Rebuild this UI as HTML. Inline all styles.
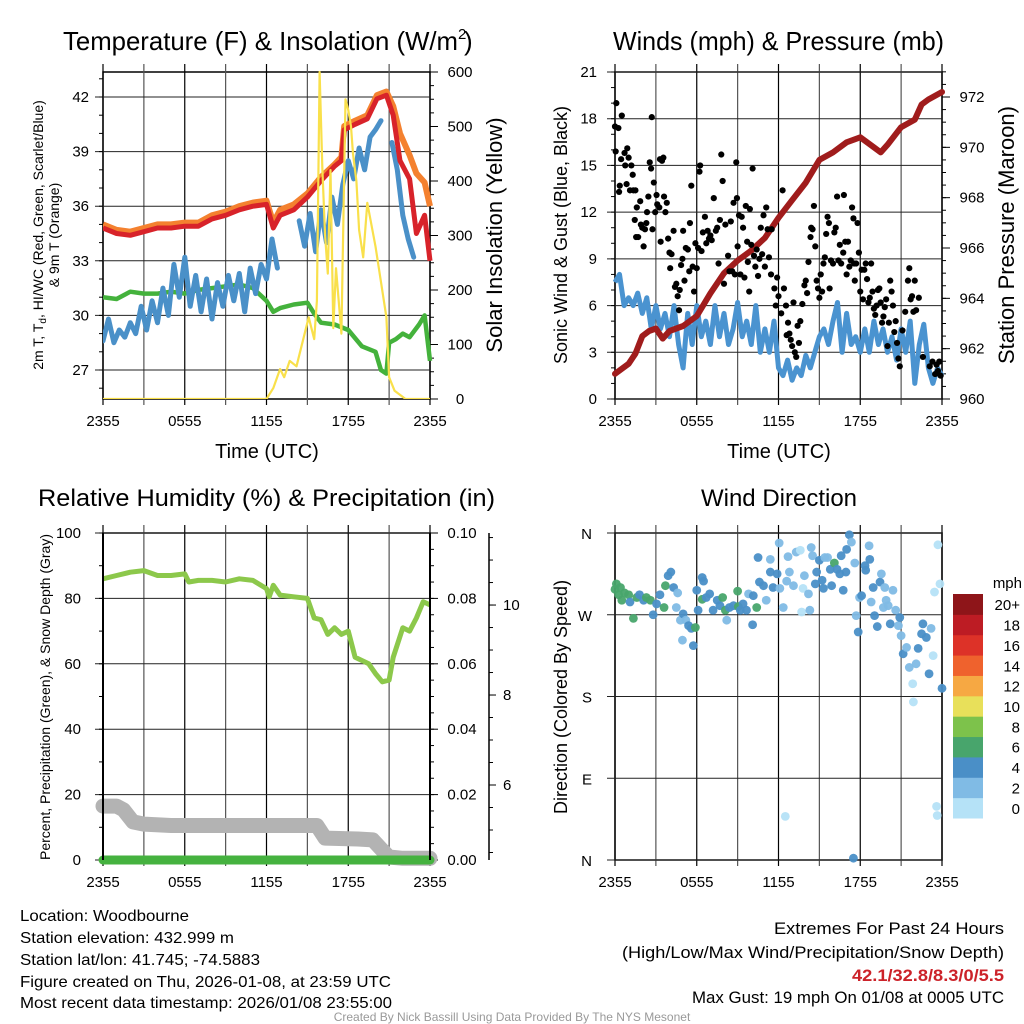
<!DOCTYPE html>
<html><head><meta charset="utf-8"><style>
html,body{margin:0;padding:0;background:#fff;}
svg{display:block;font-family:"Liberation Sans",sans-serif;}
.nar{font-family:"Liberation Sans Narrow","Liberation Sans",sans-serif;}
</style></head><body>
<svg id="c" width="1024" height="1024" viewBox="0 0 1024 1024" xmlns="http://www.w3.org/2000/svg">
<text x="63" y="50" font-size="26" textLength="395" lengthAdjust="spacingAndGlyphs">Temperature (F) &amp; Insolation (W/m</text>
<text x="458" y="39" font-size="15">2</text>
<text x="464" y="50" font-size="26">)</text>
<text x="613" y="50" font-size="26" textLength="331" lengthAdjust="spacingAndGlyphs">Winds (mph) &amp; Pressure (mb)</text>
<text x="38" y="506" font-size="24" textLength="457" lengthAdjust="spacingAndGlyphs">Relative Humidity (%) &amp; Precipitation (in)</text>
<text x="779" y="506" font-size="24" text-anchor="middle">Wind Direction</text>

<text x="267" y="458" font-size="20" text-anchor="middle">Time (UTC)</text>
<text x="779" y="458" font-size="20" text-anchor="middle">Time (UTC)</text>
<text transform="translate(43,235) rotate(-90)" font-size="14" text-anchor="middle">2m T, T<tspan font-size="10" dy="3">d</tspan><tspan dy="-3">, HI/WC (Red, Green, Scarlet/Blue)</tspan></text>
<text transform="translate(59,235) rotate(-90)" font-size="14" text-anchor="middle">&amp; 9m T (Orange)</text>
<text transform="translate(502,235) rotate(-90)" font-size="22" text-anchor="middle">Solar Insolation (Yellow)</text>
<text transform="translate(567,235) rotate(-90)" font-size="18" text-anchor="middle">Sonic Wind &amp; Gust (Blue, Black)</text>
<text transform="translate(1014,235) rotate(-90)" font-size="22" text-anchor="middle">Station Pressure (Maroon)</text>
<text transform="translate(50,697) rotate(-90)" font-size="14" text-anchor="middle">Percent, Precipitation (Green), &amp; Snow Depth (Gray)</text>
<text transform="translate(567,697) rotate(-90)" font-size="18" text-anchor="middle">Direction (Colored By Speed)</text>

<g class="nar" font-size="16">
<text x="20" y="921" textLength="169" lengthAdjust="spacingAndGlyphs">Location: Woodbourne</text>
<text x="20" y="943" textLength="214" lengthAdjust="spacingAndGlyphs">Station elevation: 432.999 m</text>
<text x="20" y="965" textLength="240" lengthAdjust="spacingAndGlyphs">Station lat/lon: 41.745; -74.5883</text>
<text x="20" y="987" textLength="371" lengthAdjust="spacingAndGlyphs">Figure created on Thu, 2026-01-08, at 23:59 UTC</text>
<text x="20" y="1008" textLength="372" lengthAdjust="spacingAndGlyphs">Most recent data timestamp: 2026/01/08 23:55:00</text>
</g>
<g class="nar" font-size="17">
<text x="774" y="934" textLength="230" lengthAdjust="spacingAndGlyphs">Extremes For Past 24 Hours</text>
<text x="622" y="958" textLength="382" lengthAdjust="spacingAndGlyphs">(High/Low/Max Wind/Precipitation/Snow Depth)</text>
<text x="852" y="981" textLength="152" lengthAdjust="spacingAndGlyphs" fill="#cc2229" font-weight="bold">42.1/32.8/8.3/0/5.5</text>
<text x="692" y="1003" textLength="312" lengthAdjust="spacingAndGlyphs">Max Gust: 19 mph On 01/08 at 0005 UTC</text>
</g>
<text class="nar" x="512" y="1021" font-size="12" fill="#999" text-anchor="middle">Created By Nick Bassill Using Data Provided By The NYS Mesonet</text>
</svg>
<script>
// ---- data ----
const timeTicks = ["2355","0555","1155","1755","2355"];
const tempHours = [0,1,2,3,4,5,6,7,8,9,10,11,12,12.5,13,14,15,16,17,17.5,17.7,18.5,19.4,20.1,20.8,21.3,21.8,22.5,23.0,23.6,24];
const tempRed   = [34.8,34.5,34.4,34.6,34.8,34.8,34.9,34.9,35.3,35.5,35.8,36.0,36.1,34.8,35.5,35.8,36.5,37.4,38.2,38.5,40.2,40.5,40.8,41.9,42.1,41.0,38.5,37.5,34.5,35.5,33.0];
const temp9m    = [35.0,34.7,34.6,34.8,35.0,35.0,35.1,35.1,35.5,35.7,36.0,36.2,36.3,35.1,35.8,36.1,36.7,37.6,38.3,38.7,40.4,40.7,41.0,42.1,42.3,41.5,40.0,38.8,37.8,37.3,36.0];
const dewHours  = [0,1,2,3,4,5,6,7,8,9,10,11,12,12.5,13,14,15,15.5,16,17,18,19,20,20.4,20.8,21.0,21.5,22,22.5,23.2,23.6,24];
const dewpoint  = [31.0,30.9,31.3,31.2,31.2,31.3,31.2,31.4,31.5,31.6,31.7,31.5,30.8,30.2,30.4,30.6,30.7,30.1,29.6,29.5,29.2,28.3,28.0,27.0,26.8,28.5,28.7,29.0,28.8,29.5,30.0,27.5];
const hiwcStep = 0.4;
const hiwc = [28.6,29.8,28.5,29.2,28.8,29.6,29.0,30.5,29.2,30.8,29.6,31.5,30.0,32.8,31.0,33.2,30.5,32.2,30.2,32.0,29.8,31.8,30.5,32.2,30.8,32.3,30.2,32.6,31.2,32.8,32.0,34.2,32.6,null,null,null,35.2,33.8,35.6,33.5,35.8,34.0,36.5,35.0,37.2,38.5,37.5,39.2,38.0,39.8,40.2,40.7,null,39.5,38.0,35.5,34.2,33.2];
const solarHours = [0,12.0,12.5,13.0,13.3,13.7,14.2,15.1,15.5,15.7,15.9,16.1,16.3,16.5,16.7,16.9,17.1,17.3,17.5,17.8,18.0,18.2,18.35,18.6,18.8,19.1,19.4,20.0,20.8,21.0,21.4,22.2,24];
const solar      = [0,0,20,55,40,70,60,150,110,180,600,420,300,230,420,130,240,180,120,550,530,500,450,400,310,260,360,280,150,40,15,0,0];
const presHours = [0,0.5,1,1.5,2,2.5,3,3.5,4,5,6,7,8,9,10,11,12,13,14,15,16,17,18,18.5,19,19.5,20,21,22,22.5,23,24];
const pressure  = [961.0,961.2,961.4,961.8,962.5,962.7,962.8,962.4,962.7,962.9,963.3,964.2,965.0,965.5,965.9,966.4,967.2,967.9,968.6,969.5,969.8,970.2,970.4,970.2,970.0,969.8,970.1,970.8,971.1,971.7,971.9,972.2];
const windStep = 1/3;
const windSpeed = [7.5,8.0,6.0,6.5,6.0,6.8,5.5,6.5,4.5,6.0,4.5,5.5,4.0,6.0,3.5,2.0,5.5,3.5,6.0,4.0,5.0,3.5,6.0,4.0,5.5,3.5,4.5,6.2,4.0,5.0,3.5,6.0,3.0,4.5,3.0,5.0,2.0,1.5,2.5,1.2,2.0,1.5,2.8,2.0,3.0,4.0,4.5,3.5,5.0,6.2,3.0,5.5,3.5,4.0,3.0,4.5,3.0,5.0,3.5,4.5,3.0,4.0,2.5,4.5,3.0,5.0,1.0,3.5,4.8,2.0,1.0,2.0,1.5];
const gustHours = [0,0.1,0.25,0.05,0.5,0.35,0.3,0.45,0.7,0.75,0.9,0.85,1.0,1.2,1.3,1.1,1.35,1.5,1.45,1.6,1.55,1.7,1.85,1.9,2.0,2.1,2.2,2.3,2.35,2.45,2.55,2.65,2.7,2.75,2.85,2.95,3.05,3.1,3.25,3.35,3.3,3.55,3.45,3.6,3.7,3.8,3.9,4.0,4.05,4.15,4.3,4.4,4.5,4.6,4.7,4.75,4.85,4.95,5.0,5.1,5.2,5.35,5.45,5.5,5.6,5.7,5.8,5.9,6.0,6.1,6.2,6.25,6.35,6.45,6.6,6.7,6.8,6.9,7.0,7.1,7.25,7.4,7.5,7.6,7.7,7.8,7.9,8.0,8.1,8.3,8.4,8.5,8.6,8.7,8.8,8.9,8.95,9.0,9.1,9.2,9.3,9.4,9.5,9.6,9.7,9.75,9.85,9.9,10.0,10.1,10.2,10.3,10.4,10.5,10.6,10.7,10.8,10.9,11.0,11.1,11.2,11.3,11.45,11.5,11.7,11.8,11.9,12.0,12.2,12.3,12.4,12.55,12.6,12.7,12.8,12.9,13.0,13.1,13.2,13.3,13.4,13.5,13.6,13.75,13.9,14.0,14.1,14.2,14.35,14.4,14.5,14.6,14.7,14.8,14.9,15.0,15.1,15.2,15.3,15.4,15.5,15.6,15.7,15.75,15.85,16.0,16.1,16.2,16.3,16.4,16.5,16.6,16.75,16.8,16.9,17.0,17.1,17.2,17.3,17.4,17.5,17.55,17.6,17.7,17.8,17.9,18.0,18.1,18.2,18.3,18.4,18.5,18.6,18.7,18.8,18.9,19.0,19.1,19.2,19.3,19.4,19.5,19.6,19.7,19.8,19.9,20.0,20.1,20.2,20.3,20.4,20.5,20.6,20.7,20.8,20.9,21.1,21.3,21.5,21.6,21.7,21.8,21.9,22.0,22.1,22.3,22.6,23.1,23.3,23.5,23.6,23.7,23.8,23.9];
const gust = [17.5,19.0,17.4,15.9,18.2,13.7,13.3,15.4,15.8,15.0,16.1,13.8,15.5,15.0,14.4,13.4,13.4,13.4,11.5,12.3,10.4,10.4,12.7,11.2,11.0,9.8,10.9,11.3,12.0,13.0,15.2,14.8,18.1,10.9,13.9,12.0,13.1,12.5,12.3,10.1,15.4,15.5,15.3,13.0,12.0,12.6,10.3,9.4,8.4,9.3,10.8,7.2,7.4,6.6,5.7,7.0,8.6,9.0,10.8,7.6,9.7,9.6,8.2,11.3,13.7,8.5,6.9,10.0,8.4,9.7,14.6,15.0,9.5,10.7,11.7,10.0,10.8,10.3,10.5,10.2,12.9,10.8,11.0,8.7,11.5,15.7,14.0,7.4,11.2,9.2,8.2,11.4,8.2,12.6,8.0,15.2,12.9,9.8,11.8,8.0,11.7,11.0,7.8,12.4,10.1,8.8,6.9,12.2,9.9,14.8,9.2,8.5,9.6,7.9,9.0,11.0,9.3,11.8,8.5,12.3,10.9,9.1,8.0,10.9,7.1,6.0,7.8,6.6,5.5,13.4,7.1,6.0,4.1,4.9,4.2,3.8,3.4,6.2,3.0,2.7,4.7,3.6,5.0,6.1,7.3,7.6,6.8,8.8,10.4,11.0,10.9,12.4,9.8,7.6,7.1,6.5,8.0,6.9,8.7,9.1,10.6,11.7,11.3,7.1,8.9,8.7,10.7,11.0,13.0,8.9,9.9,8.7,9.4,13.1,10.1,8.0,10.1,8.5,8.9,12.3,11.6,8.7,7.6,8.7,11.3,9.4,6.9,8.3,6.4,8.3,8.7,7.7,6.2,6.5,8.7,6.9,5.8,5.4,6.0,7.0,7.1,6.2,4.9,5.3,5.9,6.4,3.4,4.9,7.6,6.9,6.0,4.3,5.0,3.6,2.6,2.1,4.4,5.6,7.6,8.4,6.4,6.6,5.6,7.6,5.7,6.5,2.7,2.1,2.4,1.6,2.2,1.8,2.4,1.5];
const dirHours = [0,0.1,0.27,0.4,0.5,0.7,1,1.1,1.35,1.6,1.8,2.1,2.3,2.6,2.8,3.05,3.3,3.6,3.7,3.9,4.1,4.3,4.5,4.6,4.8,5.0,5.2,5.4,5.6,5.75,4.95,5.9,6.0,6.1,6.4,6.5,6.4,6.7,6.95,7.2,7.5,7.7,7.9,8.1,8.2,8.4,8.7,9.0,9.05,9.2,9.4,9.65,9.8,10.1,10.15,10.4,10.5,10.6,10.9,11.1,11.4,11.4,11.6,11.9,12.05,12.1,12.35,12.5,12.6,12.7,12.8,13.1,13.3,13.6,13.7,13.8,13.9,14.2,14.3,14.4,14.5,14.7,14.8,15.0,15.2,15.3,15.4,15.6,15.8,15.9,16.1,16.3,16.5,16.6,16.75,16.95,17.0,17.2,17.35,17.6,17.7,17.85,17.95,18.1,18.35,18.4,18.65,18.7,18.8,18.95,19.05,19.25,19.45,19.55,19.7,19.8,19.9,20.05,20.2,20.4,20.6,20.8,20.9,21.0,21.15,21.4,21.6,21.85,21.9,22.1,22.25,22.5,22.6,22.85,23.05,23.2,23.35,23.45,23.6,23.65,23.7,23.85,24.0,17.5];
const direction = [298,304,292,300,286,294,292,284,266,289,292,286,289,286,270,282,292,278,302,313,317,300,278,294,264,271,264,258,255,236,242,256,297,275,311,307,287,289,293,275,286,280,289,275,264,278,280,296,279,275,282,275,293,259,291,278,333,306,302,286,317,331,300,315,349,299,278,48,307,334,317,302,339,341,273,299,313,293,275,344,335,304,317,330,308,299,333,333,320,302,327,320,315,335,297,317,342,358,350,327,269,251,289,291,324,319,346,331,284,300,269,257,306,315,278,300,286,280,260,297,275,258,267,247,227,234,212,194,174,216,233,249,260,245,205,255,225,295,59,49,347,304,189,2];
const dirSpeed = [6,6,7,6,6,6,6,5,6,6,5,5,6,6,5,5,4,6,6,5,5,4,2,2,2,4,2,4,4,4,2,6,4,4,4,4,6,4,4,4,4,4,6,6,2,4,4,6,6,4,4,4,2,4,4,6,4,4,4,2,4,2,4,4,2,2,2,0,2,2,2,2,2,0,0,0,2,2,2,2,2,4,4,4,4,4,2,2,4,4,6,4,4,4,4,4,4,4,2,2,2,4,2,4,4,4,2,4,2,4,4,4,4,2,2,2,2,2,4,2,2,2,4,2,4,2,2,0,0,2,4,4,4,4,4,2,0,0,0,0,0,0,4,4];
const rhHours = [0,1,2,3,4,5,6,6.3,7,8,9,10,11,12,12.2,12.5,13,14,15,15.5,16,16.5,17,17.5,18,18.5,19,19.5,20,20.5,21,21.3,22,22.5,23,23.5,24];
const humidity = [86,87,88,88.5,87,87,87.5,85,85.5,85.5,85,86,85.5,83,80.5,84,81,80.5,80,74,73.5,69,71,69,70,62,61,60,57,54.5,55,62,71,70,74,79,78];
const snowHours = [0,1,1.5,2.2,3,5,15.7,16.3,18.7,19.8,20.5,21,22,24];
const snowDepth = [5.53,5.53,5.45,5.18,5.13,5.10,5.10,4.82,4.80,4.78,4.55,4.40,4.37,4.37];
const precipHours = [0,24];
const precip = [0,0];
const speedBins = ["0","2","4","6","8","10","12","14","16","18","20+"];
const speedColors = ["#b5e2f7","#80bbe5","#4a8fc7","#48a56c","#7dc24b","#e8e05a","#f6a843","#ef622d","#dd3228","#bd1c24","#8e1519"];

// ---- helpers ----
const NS="http://www.w3.org/2000/svg";
const svg=document.getElementById('c');
function mk(tag,attrs,name,parent){
  const el=document.createElementNS(NS,tag);
  for(const k in attrs) el.setAttribute(k,attrs[k]);
  
  
  (parent||svg).appendChild(el);
  return el;
}
function txt(x,y,s,size,anchor,name,extra){
  const t=mk('text',Object.assign({x:x,y:y,'font-size':size,'text-anchor':anchor||'middle'},extra||{}),name);
  t.textContent=s;return t;
}
function lin(x0,x1){return h=>x0+h/24*(x1-x0);}
function scale(d0,d1,p0,p1){return v=>p0+(v-d0)/(d1-d0)*(p1-p0);}
function pathFrom(xs,ys,X,Y){
  let d='',pen=false;
  for(let i=0;i<ys.length;i++){
    if(ys[i]===null||ys[i]===undefined){pen=false;continue;}
    d+=(pen?'L':'M')+X(xs[i]).toFixed(1)+','+Y(ys[i]).toFixed(1);pen=true;
  }
  return d;
}
function frame(L,R,T,B,name){
  mk('rect',{x:L,y:T,width:R-L,height:B-T,fill:'none',stroke:'#000','stroke-width':1.5},name);
  const X=lin(L,R);
  for(let h=0;h<=24;h+=3){
    const x=X(h);
    mk('line',{x1:x,y1:T-8,x2:x,y2:B+6,stroke:(h%6===0)?'#000':'#555','stroke-width':1.2},'vertical-gridline');
  }
  timeTicks.forEach((s,i)=>txt(X(i*6),B+27,s,15,'middle','x-tick-label'));
  return X;
}

// ===== Panel 1: Temperature =====
(function(){
  const L=103,R=430,T=72,B=399;
  const X=frame(L,R,T,B,'temperature-plot-frame');
  const Y=scale(42,27,97,370);
  const YS=scale(0,600,399,72);
  for(let v=27;v<=42;v+=3){mk('line',{x1:L-8,y1:Y(v),x2:R,y2:Y(v),stroke:'#222','stroke-width':1},'temp-gridline');txt(L-14,Y(v)+5,String(v),15,'end','temp-y-tick-label');}
  for(let v=26;v<=43;v++){mk('line',{x1:L-4,y1:Y(v),x2:L,y2:Y(v),stroke:'#000'},'temp-minor-tick');}
  for(let v=0;v<=600;v+=100){mk('line',{x1:R,y1:YS(v),x2:R+8,y2:YS(v),stroke:'#000'},'solar-tick');txt(R+30,YS(v)+5,String(v),15,'middle','solar-y-tick-label');}
  for(let v=0;v<=600;v+=25){mk('line',{x1:R,y1:YS(v),x2:R+4,y2:YS(v),stroke:'#000'},'solar-minor-tick');}
  const cl=mk('clipPath',{id:'cp1'},'clip-temp');mk('rect',{x:L,y:T-3,width:R-L+3,height:B-T+3},'clip-rect',cl);
  const g=mk('g',{'clip-path':'url(#cp1)'},'temperature-series');
  mk('path',{d:pathFrom(dewHours,dewpoint,X,Y),fill:'none',stroke:'#44b23c','stroke-width':4.5,'stroke-linejoin':'round'},'dewpoint-line',g);
  const hx=hiwc.map((v,i)=>i*hiwcStep);
  mk('path',{d:pathFrom(hx,hiwc,X,Y),fill:'none',stroke:'#4a90c8','stroke-width':5,'stroke-linejoin':'round','stroke-linecap':'round'},'heat-index-wind-chill-line',g);
  mk('path',{d:pathFrom(tempHours,temp9m,X,Y),fill:'none',stroke:'#f4812f','stroke-width':6,'stroke-linejoin':'round'},'temp-9m-line',g);
  mk('path',{d:pathFrom(tempHours,tempRed,X,Y),fill:'none',stroke:'#d8232a','stroke-width':5,'stroke-linejoin':'round'},'temp-2m-line',g);
  mk('path',{d:pathFrom(solarHours,solar,X,YS),fill:'none',stroke:'#f9e04b','stroke-width':2.2,'stroke-linejoin':'round'},'solar-insolation-line',g);
})();

// ===== Panel 2: Winds =====
(function(){
  const L=615,R=942,T=72,B=399;
  const X=frame(L,R,T,B,'winds-plot-frame');
  const Y=scale(0,21,399,72);
  const YP=scale(960,972,399,97);
  for(let v=0;v<=21;v+=3){mk('line',{x1:L-8,y1:Y(v),x2:R,y2:Y(v),stroke:'#222','stroke-width':1},'wind-gridline');txt(L-18,Y(v)+5,String(v),15,'end','wind-y-tick-label');}
  for(let v=0;v<=21;v+=1){mk('line',{x1:L-4,y1:Y(v),x2:L,y2:Y(v),stroke:'#000'},'wind-minor-tick');}
  for(let v=960;v<=972;v+=2){mk('line',{x1:R,y1:YP(v),x2:R+8,y2:YP(v),stroke:'#000'},'pressure-tick');txt(R+30,YP(v)+5,String(v),15,'middle','pressure-y-tick-label');}
  for(let v=960;v<=973;v+=0.5){mk('line',{x1:R,y1:YP(v),x2:R+4,y2:YP(v),stroke:'#000'},'pressure-minor-tick');}
  const cl=mk('clipPath',{id:'cp2'},'clip-winds');mk('rect',{x:L-4,y:T,width:R-L+8,height:B-T},'clip-rect',cl);
  const g=mk('g',{'clip-path':'url(#cp2)'},'winds-series');
  const wx=windSpeed.map((v,i)=>i*windStep);
  mk('path',{d:pathFrom(wx,windSpeed,X,Y),fill:'none',stroke:'#4a93d0','stroke-width':5,'stroke-linejoin':'round'},'sonic-wind-line',g);
  mk('path',{d:pathFrom(presHours,pressure,X,YP),fill:'none',stroke:'#a01c1c','stroke-width':6,'stroke-linejoin':'round','stroke-linecap':'round'},'pressure-line',g);
  gust.forEach((v,i)=>{mk('circle',{cx:X(gustHours[i]),cy:Y(v),r:3.1,fill:'#000'},'gust-point',g);});
})();

// ===== Panel 3: Humidity =====
(function(){
  const L=103,R=430,T=533,B=860;
  const X=frame(L,R,T,B,'humidity-plot-frame');
  const Y=scale(0,100,860,533);
  const YD=scale(4.333,6,860,785);
  for(let v=0;v<=100;v+=20){mk('line',{x1:L-8,y1:Y(v),x2:R,y2:Y(v),stroke:'#222','stroke-width':1},'humidity-gridline');txt(L-22,Y(v)+5,String(v),15,'end','humidity-y-tick-label');}
  for(let v=0;v<=100;v+=10){mk('line',{x1:L-4,y1:Y(v),x2:L,y2:Y(v),stroke:'#000'},'humidity-minor-tick');}
  for(let v=0;v<=10;v+=2){mk('line',{x1:R,y1:Y(v*10),x2:R+8,y2:Y(v*10),stroke:'#000'},'precip-tick');txt(R+32,Y(v*10)+5,(v/100).toFixed(2),15,'middle','precip-y-tick-label');}
  for(let v=0;v<=100;v+=5){mk('line',{x1:R,y1:Y(v),x2:R+4,y2:Y(v),stroke:'#000'},'precip-minor-tick');}
  mk('line',{x1:489,y1:T,x2:489,y2:B,stroke:'#000','stroke-width':1.5},'snow-depth-axis');
  for(let v=6;v<=10;v+=2){mk('line',{x1:489,y1:YD(v),x2:496,y2:YD(v),stroke:'#000'},'snow-tick');txt(503,YD(v)+5,String(v),15,'start','snow-y-tick-label');}
  for(let v=4.5;v<=11.5;v+=0.5){if(YD(v)>=T)mk('line',{x1:489,y1:YD(v),x2:493,y2:YD(v),stroke:'#000'},'snow-minor-tick');}
  mk('path',{d:pathFrom(snowHours,snowDepth,X,YD),fill:'none',stroke:'#b3b3b3','stroke-width':15,'stroke-linejoin':'round','stroke-linecap':'round'},'snow-depth-line');
  mk('path',{d:pathFrom(precipHours,precip,X,v=>Y(v*1000)),fill:'none',stroke:'#45b23f','stroke-width':9,'stroke-linecap':'round'},'precipitation-line');
  mk('path',{d:pathFrom(rhHours,humidity,X,Y),fill:'none',stroke:'#8cc84b','stroke-width':5,'stroke-linejoin':'round'},'relative-humidity-line');
  mk('line',{x1:L,y1:T,x2:L,y2:B,stroke:'#000','stroke-width':2},'humidity-left-axis');
  mk('line',{x1:R,y1:T,x2:R,y2:B,stroke:'#000','stroke-width':2},'humidity-right-axis');
})();

// ===== Panel 4: Wind direction =====
(function(){
  const L=615,R=942,T=533,B=860;
  const X=frame(L,R,T,B,'direction-plot-frame');
  const Y=scale(0,360,860,533);
  const labs=['N','E','S','W','N'];
  for(let i=0;i<5;i++){const v=i*90;mk('line',{x1:L-8,y1:Y(v),x2:R,y2:Y(v),stroke:'#222','stroke-width':1},'direction-gridline');txt(L-23,Y(v)+6,labs[i],15,'end','direction-y-tick-label');}
  direction.forEach((v,i)=>{
    const ci=Math.min(10,Math.floor(dirSpeed[i]/2));
    mk('circle',{cx:X(dirHours[i]),cy:Y(v),r:4.4,fill:speedColors[ci],opacity:0.95},'direction-point');
  });
  const cbT=594,cbH=224/11;
  speedBins.forEach((s,i)=>{
    const y=cbT+(10-i)*cbH;
    mk('rect',{x:953,y:y,width:30,height:cbH+0.5,fill:speedColors[i]},'colorbar-box');
    txt(1020,y+cbH/2+6,s,15,'end','colorbar-label');
  });
  txt(1022,588,'mph',15,'end','colorbar-title');
})();
</script>
</body></html>
